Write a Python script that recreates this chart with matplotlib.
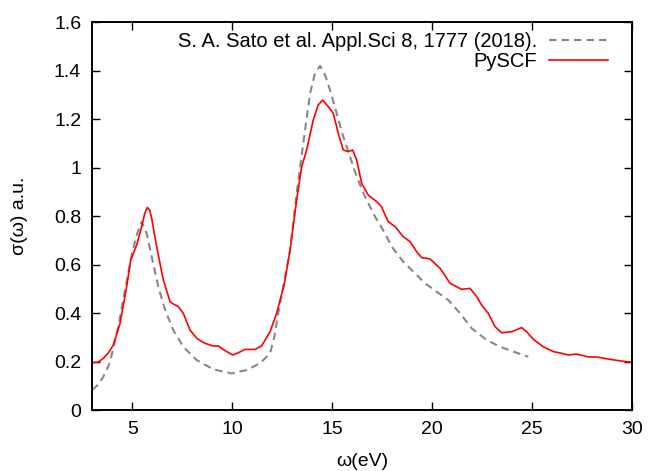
import matplotlib
matplotlib.use('Agg')
import matplotlib.pyplot as plt

plt.rcParams['font.family'] = ['Liberation Sans', 'DejaVu Sans']

# reference spectrum (Sato et al.)
ref_w = [3.0, 3.3, 3.55, 3.8, 3.97, 4.3, 4.64, 4.97, 5.22, 5.47, 5.72, 5.97,
         6.3, 6.64, 7.05, 7.55, 8.22, 9.05, 9.97, 10.72, 11.39, 11.89, 12.1,
         12.3, 12.6, 12.89, 13.22, 13.55, 13.89, 14.14, 14.39, 14.64, 14.89,
         15.22, 15.55, 15.89, 16.22, 16.64, 17.14, 17.64, 17.97, 18.55, 19.05,
         19.64, 20.22, 20.8, 21.39, 21.97, 22.72, 23.39, 24.05, 24.8]
ref_s = [0.083, 0.105, 0.137, 0.18, 0.227, 0.344, 0.495, 0.64, 0.722, 0.777,
         0.729, 0.633, 0.509, 0.413, 0.33, 0.261, 0.206, 0.168, 0.151, 0.165,
         0.193, 0.234, 0.3, 0.4, 0.53, 0.66, 0.894, 1.1, 1.307, 1.39, 1.42,
         1.383, 1.32, 1.224, 1.128, 1.045, 0.963, 0.88, 0.798, 0.729, 0.674,
         0.612, 0.571, 0.523, 0.488, 0.454, 0.399, 0.337, 0.289, 0.261, 0.241,
         0.22]

# PySCF spectrum
pyscf_w = [3.0, 3.3, 3.55, 3.8, 4.05, 4.39, 4.72, 4.92, 5.22, 5.47, 5.62,
           5.75, 5.87, 5.97, 6.22, 6.55, 6.89, 7.1, 7.3, 7.55, 7.89, 8.22,
           8.64, 9.05, 9.3, 9.64, 10.02, 10.3, 10.64, 11.14, 11.47, 11.89,
           12.22, 12.6, 12.89, 13.22, 13.47, 13.72, 14.05, 14.3, 14.52, 14.8,
           15.05, 15.3, 15.55, 15.8, 16.02, 16.22, 16.47, 16.8, 17.22, 17.45,
           17.8, 18.14, 18.55, 18.89, 19.22, 19.47, 19.89, 20.39, 20.89, 21.47,
           21.89, 22.22, 22.47, 22.8, 23.14, 23.47, 23.97, 24.47, 24.72, 25.05,
           25.55, 26.05, 26.47, 26.8, 27.22, 27.8, 28.22, 28.89, 29.55, 30.0]
pyscf_s = [0.195, 0.198, 0.213, 0.235, 0.268, 0.358, 0.509, 0.619, 0.681,
           0.757, 0.81, 0.836, 0.825, 0.791, 0.674, 0.537, 0.447, 0.435,
           0.427, 0.399, 0.33, 0.296, 0.275, 0.264, 0.264, 0.245, 0.227,
           0.236, 0.25, 0.25, 0.265, 0.323, 0.4, 0.52, 0.66, 0.867, 1.004,
           1.073, 1.197, 1.259, 1.279, 1.252, 1.224, 1.142, 1.073, 1.066,
           1.073, 1.032, 0.935, 0.887, 0.86, 0.84, 0.777, 0.757, 0.715, 0.695,
           0.653, 0.629, 0.623, 0.585, 0.523, 0.498, 0.502, 0.468, 0.433,
           0.399, 0.344, 0.319, 0.323, 0.34, 0.323, 0.292, 0.261, 0.241,
           0.234, 0.227, 0.231, 0.219, 0.219, 0.209, 0.201, 0.197]

fig = plt.figure(figsize=(6.48, 4.71), dpi=100)
ax = fig.add_axes([0.1424, 0.1295, 0.8333, 0.8232])

ax.plot(ref_w, ref_s, color='#888888', lw=1.5, linestyle=(0, (3.6, 2.4)),
        label='S. A. Sato et al. Appl.Sci 8, 1777 (2018).')
ax.plot(pyscf_w, pyscf_s, color='#ff0000', lw=1.2, label='PySCF')

ax.set_xlim(3, 30)
ax.set_ylim(0, 1.6)
ax.set_xticks([5, 10, 15, 20, 25, 30])
ax.set_yticks([0, 0.2, 0.4, 0.6, 0.8, 1.0, 1.2, 1.4, 1.6])
ax.set_yticklabels(['0', '0.2', '0.4', '0.6', '0.8', '1', '1.2', '1.4', '1.6'])
ax.tick_params(direction='in', length=6, width=1, top=True, right=True,
               labelsize=14, pad=8)
for s in ax.spines.values():
    s.set_linewidth(1.4)

ax.set_xlabel('ω(eV)', fontsize=14, labelpad=11)
ax.set_ylabel('σ(ω) a.u.', fontsize=14, labelpad=19)

ax.legend(loc='upper right', bbox_to_anchor=(0.964, 0.988), frameon=False,
          markerfirst=False, fontsize=14.5, handlelength=2.9,
          handletextpad=0.6, labelspacing=0.05, borderpad=0.25,
          borderaxespad=0)

plt.savefig('out.png', dpi=100)
